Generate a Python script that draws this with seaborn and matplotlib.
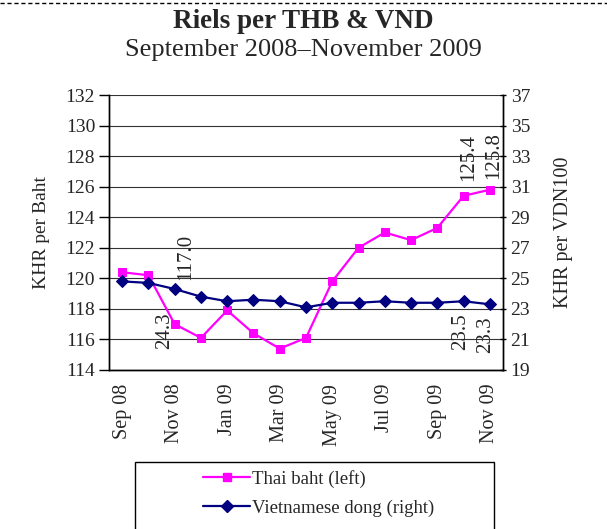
import matplotlib
matplotlib.use("Agg")
import matplotlib.pyplot as plt
from matplotlib.lines import Line2D
from matplotlib.patches import Rectangle
import numpy as np
import pandas as pd
import seaborn as sns

# Monthly data, Sep 2008 - Nov 2009
months = ["Sep 08", "Oct 08", "Nov 08", "Dec 08", "Jan 09", "Feb 09", "Mar 09", "Apr 09",
          "May 09", "Jun 09", "Jul 09", "Aug 09", "Sep 09", "Oct 09", "Nov 09"]
thai_baht = [120.4, 120.2, 117.0, 116.1, 117.9, 116.4, 115.4, 116.1,
             119.8, 122.0, 123.0, 122.5, 123.3, 125.4, 125.8]
viet_dong = [24.8, 24.7, 24.3, 23.8, 23.5, 23.6, 23.5, 23.1,
             23.4, 23.4, 23.5, 23.4, 23.4, 23.5, 23.3]

# labelled points: (index, text, offset in points)
baht_labels = [(2, "117.0", (8, 32)), (13, "125.4", (4, 11)), (14, "125.8", (3, 8))]
dong_labels = [(2, "24.3", (-7, -17)), (13, "23.5", (-2, -9)), (14, "23.3", (-3, -9))]

PINK = "#FF00FF"
NAVY = "#000080"

sns.set_style("white")
plt.rcParams["font.family"] = ["Liberation Serif", "DejaVu Serif"]

df = pd.DataFrame({"pos": np.arange(len(months)), "baht": thai_baht, "dong": viet_dong})

fig = plt.figure(figsize=(6.07, 5.29), dpi=100)
ax = fig.add_axes([0.1796, 0.3006, 0.649, 0.5198])
ax2 = ax.twinx()

sns.lineplot(data=df, x="pos", y="baht", ax=ax, color=PINK, marker="s", markersize=6,
             markeredgecolor=PINK, linewidth=1.6, zorder=3)
sns.lineplot(data=df, x="pos", y="dong", ax=ax2, color=NAVY, marker="D", markersize=6,
             markeredgecolor=NAVY, linewidth=1.6, zorder=3)

ax.set_xlim(-0.5, len(months) - 0.5)
ax.set_ylim(114, 132)
ax2.set_ylim(19, 37)
ax.set_yticks(np.arange(114, 133, 2))
ax2.set_yticks(np.arange(19, 38, 2))

# category boundaries get tick marks, labels sit on every other month
ax.set_xticks(np.arange(-0.5, len(months), 2))
ax.set_xticklabels([])
ax.set_xticks(np.arange(0, len(months), 2), minor=True)
ax.set_xticklabels(months[::2], minor=True, rotation=90, fontsize=14.5)
ax.tick_params(axis="x", which="major", length=5, width=1, color="black", direction="out")
ax.tick_params(axis="x", which="minor", length=0, pad=10)
ax.tick_params(axis="y", length=7, width=1, direction="out", labelsize=14, color="black", pad=3)
ax2.tick_params(axis="y", length=5, width=1, direction="inout", labelsize=14, color="black", pad=3)

ax.grid(axis="y", color="#333333", linewidth=0.8)
ax.grid(axis="x", visible=False)
ax2.grid(False)
for a in (ax, ax2):
    a.spines["top"].set_visible(False)
    for s in ("left", "right", "bottom"):
        a.spines[s].set_color("black")
        a.spines[s].set_linewidth(1.0)

ax.set_xlabel("")
ax.set_ylabel("KHR per Baht", fontsize=14, labelpad=11)
ax2.set_ylabel("KHR per VDN100", fontsize=14.5, labelpad=17)

# data labels
for i, txt, off in baht_labels:
    ax.annotate(txt, (i, thai_baht[i]), xytext=off, textcoords="offset points",
                rotation=90, ha="center", va="bottom", fontsize=15)
for i, txt, off in dong_labels:
    ax2.annotate(txt, (i, viet_dong[i]), xytext=off, textcoords="offset points",
                 rotation=90, ha="center", va="top", fontsize=15)

# titles
fig.text(0.5, 0.959, "Riels per THB & VND", ha="center", va="center",
         fontsize=19.5, fontweight="bold")
fig.text(0.5, 0.905, "September 2008\u2013November 2009", ha="center", va="center",
         fontsize=19)

# dashed rule across the top
fig.add_artist(Line2D([0, 1], [0.994, 0.994], transform=fig.transFigure,
                      color="black", linestyle=(0, (3, 2)), linewidth=1))

# legend box (runs past the bottom edge)
fig.add_artist(Rectangle((135 / 607, -0.05), (494 - 135) / 607, 0.05 + (529 - 462) / 529,
                         transform=fig.transFigure, fill=False, edgecolor="black",
                         linewidth=1))
handles = [Line2D([], [], color=PINK, marker="s", markersize=6, linewidth=1.6),
           Line2D([], [], color=NAVY, marker="D", markersize=6, linewidth=1.6)]
fig.legend(handles, ["Thai baht (left)", "Vietnamese dong (right)"],
           loc="upper left", bbox_to_anchor=(190 / 607, 1 - 457 / 529),
           frameon=False, fontsize=13.5, handlelength=2.5, handletextpad=0.1,
           labelspacing=0.6, borderpad=0.2)

fig.savefig("out.png", dpi=100)
